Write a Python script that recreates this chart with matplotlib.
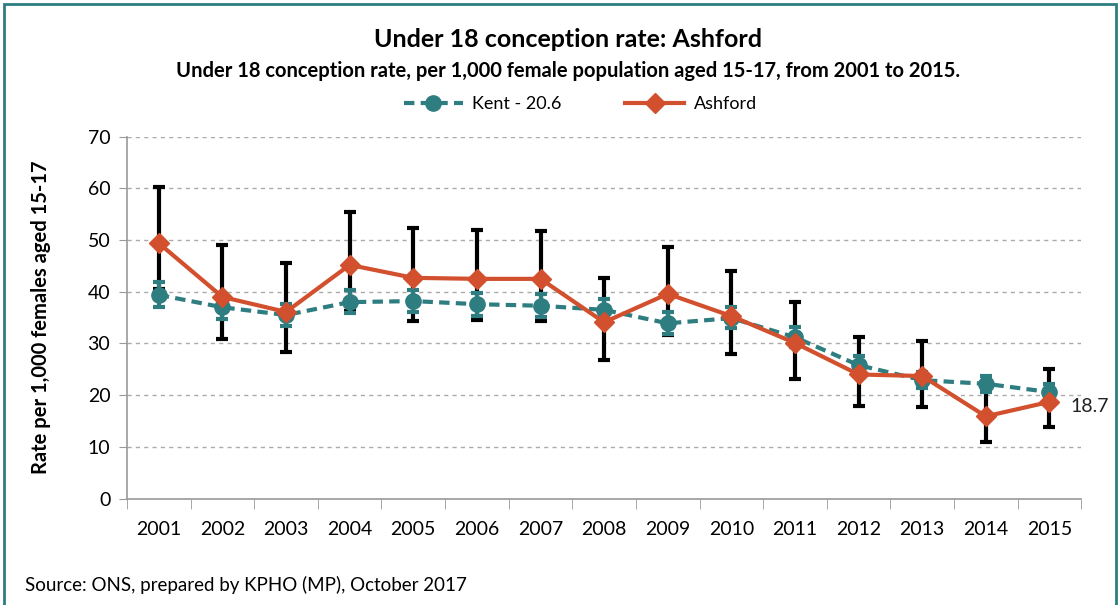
import matplotlib.pyplot as plt
from matplotlib.patches import Rectangle

plt.rcParams['font.family'] = ['Lato', 'DejaVu Sans']

# Data
years = ['2001', '2002', '2003', '2004', '2005', '2006', '2007', '2008',
         '2009', '2010', '2011', '2012', '2013', '2014', '2015']
ashford = [49.4, 39.0, 36.1, 45.2, 42.7, 42.5, 42.5, 34.1,
           39.6, 35.3, 30.1, 24.0, 23.7, 15.9, 18.7]
ashford_low = [40.5, 30.8, 28.3, 36.3, 34.3, 34.5, 34.3, 26.8,
               31.6, 27.9, 23.1, 17.9, 17.7, 10.9, 13.8]
ashford_high = [60.3, 49.0, 45.5, 55.5, 52.3, 52.0, 51.8, 42.6,
                48.7, 44.0, 38.0, 31.2, 30.4, 22.3, 25.0]
kent = [39.4, 37.0, 35.5, 38.0, 38.2, 37.6, 37.3, 36.5,
        33.9, 34.9, 31.2, 25.8, 22.9, 22.2, 20.6]
kent_low = [37.0, 34.8, 33.3, 35.8, 36.0, 35.4, 35.1, 34.4,
            31.9, 32.9, 29.4, 24.2, 21.4, 20.7, 19.2]
kent_high = [41.9, 39.2, 37.7, 40.3, 40.4, 39.8, 39.5, 38.7,
             36.0, 37.0, 33.1, 27.5, 24.5, 23.7, 22.1]

teal = '#2E7D80'
orange = '#D2502E'

fig = plt.figure(figsize=(11.2, 6.05), dpi=100)
ax = fig.add_axes([0.1134, 0.176, 0.852, 0.598])

x = list(range(len(years)))

# Ashford confidence intervals (black)
ax.errorbar(x, ashford,
            yerr=[[a - l for a, l in zip(ashford, ashford_low)],
                  [h - a for a, h in zip(ashford, ashford_high)]],
            fmt='none', ecolor='black', elinewidth=3, capsize=4.5,
            capthick=3, zorder=2)

# Kent with its own intervals
ax.errorbar(x, kent,
            yerr=[[k - l for k, l in zip(kent, kent_low)],
                  [h - k for k, h in zip(kent, kent_high)]],
            fmt='none', ecolor=teal, elinewidth=3, capsize=4.5,
            capthick=3, zorder=3)
ax.plot(x, kent, color=teal, lw=3, ls=(0, (2.5, 1.5)), marker='o',
        markersize=11, label='Kent - 20.6', zorder=3)

ax.plot(x, ashford, color=orange, lw=3, marker='D', markersize=10,
        label='Ashford', zorder=4)

ax.annotate('18.7', (x[-1], ashford[-1]), xytext=(15, -3),
            textcoords='offset points', fontsize=14, va='center',
            color='#222222')

ax.set_ylim(0, 70)
ax.set_yticks(range(0, 71, 10))
ax.set_xlim(-0.5, len(years) - 0.5)
ax.set_xticks(x)
ax.set_xticklabels(years)
ax.set_xticks([i - 0.5 for i in range(len(years) + 1)], minor=True)
ax.tick_params(axis='x', which='major', length=0, pad=16, labelsize=14)
ax.tick_params(axis='x', which='minor', length=7, color='#999999')
ax.tick_params(axis='y', length=6, color='#999999', labelsize=14, pad=6)
ax.grid(axis='y', color='#aaaaaa', ls=(0, (3, 3)), lw=1)
ax.set_axisbelow(True)
for s in ['top', 'right']:
    ax.spines[s].set_visible(False)
for s in ['left', 'bottom']:
    ax.spines[s].set_color('#999999')
    ax.spines[s].set_linewidth(1.2)

ax.set_ylabel('Rate per 1,000 females aged 15-17', fontsize=14.5,
              fontweight='bold', labelpad=26)

fig.text(0.507, 0.934, 'Under 18 conception rate: Ashford', ha='center',
         va='center', fontsize=18, fontweight='bold')
fig.text(0.507, 0.882, 'Under 18 conception rate, per 1,000 female population '
         'aged 15-17, from 2001 to 2015.', ha='center', va='center',
         fontsize=14.5, fontweight='bold')

fig.legend(loc='center', bbox_to_anchor=(0.518, 0.828), ncol=2, frameon=False,
           fontsize=13, handlelength=3.3, columnspacing=3.5, handletextpad=0.5)

fig.text(0.022, 0.033, 'Source: ONS, prepared by KPHO (MP), October 2017',
         fontsize=13.5, va='center')

fig.patches.append(Rectangle((0.004, -0.02), 0.992, 1.013,
                             transform=fig.transFigure, fill=False,
                             edgecolor=teal, lw=2))

plt.savefig('out.png', dpi=100)
